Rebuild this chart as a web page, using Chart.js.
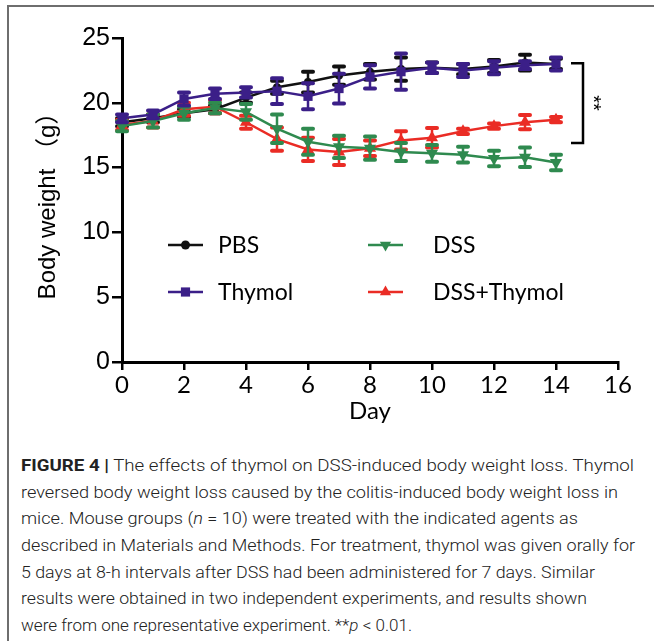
<!DOCTYPE html>
<html>
<head>
<meta charset="utf-8">
<script src="https://cdn.jsdelivr.net/npm/chart.js@4.4.0/dist/chart.umd.min.js"></script>
<style>
  body { margin: 0; background: #fff; width: 654px; height: 641px; overflow: hidden; position: relative; }
  .frame { position: absolute; left: 7px; top: 5px; width: 700px; height: 700px;
           border-top: 2px solid #6e6e6e; border-left: 2px solid #6e6e6e; }
  #wrap { position: absolute; left: 0; top: 0; width: 654px; height: 430px; }
  .caption { position: absolute; left: 21px; top: 452px; font-family: Roboto, "Liberation Sans", sans-serif;
             font-weight: 300; font-size: 17px; color: #222; line-height: 26.67px; }
  .caption .ln { white-space: nowrap; height: 26.67px; }
  .caption .ln span { display: inline-block; transform-origin: left center; }
  .caption b { font-weight: 700; }
</style>
</head>
<body>
<div class="frame"></div>
<div id="wrap"><canvas id="myChart" width="654" height="430"></canvas></div>
<div class="caption">
  <div class="ln"><span><b>FIGURE 4 |</b> The effects of thymol on DSS-induced body weight loss. Thymol</span></div>
  <div class="ln"><span>reversed body weight loss caused by the colitis-induced body weight loss in</span></div>
  <div class="ln"><span>mice. Mouse groups (<i>n</i> = 10) were treated with the indicated agents as</span></div>
  <div class="ln"><span>described in Materials and Methods. For treatment, thymol was given orally for</span></div>
  <div class="ln"><span>5 days at 8-h intervals after DSS had been administered for 7 days. Similar</span></div>
  <div class="ln"><span>results were obtained in two independent experiments, and results shown</span></div>
  <div class="ln"><span>were from one representative experiment. **<i>p</i> &lt; 0.01.</span></div>
</div>
<script>
// values (g)
const days = [0, 1, 2, 3, 4, 5, 6, 7, 8, 9, 10, 11, 12, 13, 14];
const pbs = [18.5, 18.8, 19.2, 19.5, 20.4, 21.2, 21.6, 22.1, 22.4, 22.6, 22.7, 22.6, 22.8, 23.1, 23.0];
const pbsErr = [0.3, 0.3, 0.3, 0.3, 0.4, 0.5, 0.8, 0.7, 0.6, 0.9, 0.4, 0.4, 0.5, 0.6, 0.4];
const thymol = [18.8, 19.1, 20.3, 20.7, 20.8, 20.9, 20.5, 21.1, 22.0, 22.4, 22.7, 22.5, 22.7, 22.9, 23.0];
const thymolErr = [0.3, 0.3, 0.5, 0.4, 0.4, 1.0, 1.0, 1.15, 0.9, 1.4, 0.4, 0.5, 0.5, 0.3, 0.5];
const dss = [18.2, 18.6, 19.2, 19.6, 19.3, 18.0, 17.0, 16.6, 16.5, 16.2, 16.1, 16.0, 15.7, 15.8, 15.4];
const dssErr = [0.4, 0.5, 0.5, 0.4, 0.6, 1.1, 1.0, 0.85, 0.9, 0.7, 0.65, 0.6, 0.6, 0.75, 0.6];
const dssThymol = [18.3, 18.6, 19.5, 19.7, 18.5, 17.2, 16.4, 16.2, 16.5, 17.1, 17.3, 17.8, 18.2, 18.5, 18.7];
const dssThymolErr = [0.4, 0.5, 0.5, 0.5, 0.5, 0.9, 0.9, 1.0, 0.6, 0.7, 0.75, 0.2, 0.2, 0.55, 0.2];

const xTicks = [0, 2, 4, 6, 8, 10, 12, 14, 16];
const yTicks = [0, 5, 10, 15, 20, 25];

// significance bracket between DSS groups and controls
const sigTop = 23.05;
const sigBottom = 16.9;
const sigLabel = '**';

// caption line widths to match the print layout
const captionWidths = [613, 597, 557, 614, 574, 566, 391];

const toPoints = (ys) => days.map((d, i) => ({ x: d, y: ys[i] }));

const errorBars = {
    id: 'errorBars',
    beforeDatasetDraw(chart, args) {
        const ds = chart.data.datasets[args.index];
        if (!ds.errors) return;
        const ctx = chart.ctx;
        const xs = chart.scales.x, ys = chart.scales.y;
        ctx.save();
        ctx.strokeStyle = ds.borderColor;
        ds.data.forEach((p, i) => {
            const e = ds.errors[i];
            const px = xs.getPixelForValue(p.x);
            const top = ys.getPixelForValue(p.y + e);
            const bot = ys.getPixelForValue(p.y - e);
            ctx.lineWidth = 2.5;
            ctx.lineCap = 'butt';
            ctx.beginPath();
            ctx.moveTo(px, top);
            ctx.lineTo(px, bot);
            ctx.stroke();
            ctx.lineWidth = 4;
            ctx.lineCap = 'round';
            ctx.beginPath();
            ctx.moveTo(px - 5, top); ctx.lineTo(px + 5, top);
            ctx.moveTo(px - 5, bot); ctx.lineTo(px + 5, bot);
            ctx.stroke();
        });
        ctx.restore();
    }
};

function drawMarker(ctx, style, color, x, y, r, rot) {
    ctx.save();
    ctx.fillStyle = color;
    ctx.beginPath();
    if (style === 'circle') {
        ctx.arc(x, y, r, 0, Math.PI * 2);
    } else if (style === 'rect') {
        const s = r * Math.SQRT1_2;
        ctx.rect(x - s, y - s, 2 * s, 2 * s);
    } else {
        const dir = rot ? 1 : -1;
        ctx.moveTo(x, y + dir * r);
        ctx.lineTo(x - r * 0.866, y - dir * r * 0.5);
        ctx.lineTo(x + r * 0.866, y - dir * r * 0.5);
        ctx.closePath();
    }
    ctx.fill();
    ctx.restore();
}

const extras = {
    id: 'extras',
    afterDraw(chart) {
        const ctx = chart.ctx;
        const xs = chart.scales.x, ys = chart.scales.y;
        const area = chart.chartArea;

        // bracket + stars
        const bx = xs.getPixelForValue(14) + 27;
        const t = ys.getPixelForValue(sigTop), b = ys.getPixelForValue(sigBottom);
        ctx.save();
        ctx.strokeStyle = '#000';
        ctx.lineWidth = 2.5;
        ctx.beginPath();
        ctx.moveTo(bx - 12, t); ctx.lineTo(bx, t); ctx.lineTo(bx, b); ctx.lineTo(bx - 12, b);
        ctx.stroke();
        ctx.translate(bx + 10, (t + b) / 2);
        ctx.rotate(Math.PI / 2);
        ctx.fillStyle = '#000';
        ctx.font = '20px "Liberation Sans"';
        ctx.textAlign = 'center';
        ctx.textBaseline = 'middle';
        ctx.fillText(sigLabel, 0, 0);
        ctx.restore();

        // legend, two columns inside the plot
        const cols = [area.left + 46, area.left + 246];
        const textGap = [50, 65];
        const rows = [245, 292];
        const slots = [[0, 0], [0, 1], [1, 0], [1, 1]];
        ctx.save();
        ctx.font = '23px Lato';
        ctx.textBaseline = 'middle';
        ctx.textAlign = 'left';
        chart.data.datasets.forEach((ds, i) => {
            const [c, r] = slots[i];
            const x0 = cols[c], y0 = rows[r];
            ctx.strokeStyle = ds.borderColor;
            ctx.lineWidth = 2.5;
            ctx.beginPath();
            ctx.moveTo(x0, y0); ctx.lineTo(x0 + 35, y0);
            ctx.stroke();
            drawMarker(ctx, ds.pointStyle, ds.borderColor, x0 + 17.5, y0, ds.legendRadius, ds.pointRotation);
            ctx.fillStyle = '#000';
            ctx.fillText(ds.label, x0 + textGap[c], y0 + 1);
        });
        ctx.restore();
    }
};

const ctx = document.getElementById('myChart').getContext('2d');
const myChart = new Chart(ctx, {
    type: 'line',
    data: {
        datasets: [
            {
                label: 'PBS', data: toPoints(pbs), errors: pbsErr,
                borderColor: '#111111', backgroundColor: '#111111',
                pointStyle: 'circle', pointRadius: 4, legendRadius: 4.5, order: 3
            },
            {
                label: 'Thymol', data: toPoints(thymol), errors: thymolErr,
                borderColor: '#3b1f88', backgroundColor: '#3b1f88',
                pointStyle: 'rect', pointRadius: 6.5, legendRadius: 6.5, order: 0
            },
            {
                label: 'DSS', data: toPoints(dss), errors: dssErr,
                borderColor: '#2f8a4f', backgroundColor: '#2f8a4f',
                pointStyle: 'triangle', pointRotation: 180, pointRadius: 7, legendRadius: 6.5, order: 1
            },
            {
                label: 'DSS+Thymol', data: toPoints(dssThymol), errors: dssThymolErr,
                borderColor: '#ea2c25', backgroundColor: '#ea2c25',
                pointStyle: 'triangle', pointRadius: 7, legendRadius: 6.5, order: 2
            }
        ].map(ds => Object.assign(ds, {
            borderWidth: 2.5, pointBorderWidth: 0, pointHoverRadius: ds.pointRadius,
            tension: 0, clip: false, fill: false
        }))
    },
    options: {
        responsive: false,
        animation: false,
        events: [],
        layout: { padding: { left: 0, right: 36, top: 38, bottom: 0 } },
        plugins: {
            legend: { display: false },
            tooltip: { enabled: false }
        },
        scales: {
            x: {
                type: 'linear', min: 0, max: 16,
                afterBuildTicks: (s) => { s.ticks = xTicks.map(v => ({ value: v })); },
                afterFit: (s) => { s.height = 68; },
                ticks: { color: '#000', font: { family: 'Lato', size: 24 }, padding: 1 },
                grid: { display: true, drawOnChartArea: false, drawTicks: true, tickLength: 8, color: '#000', lineWidth: 2.5 },
                border: { display: true, color: '#000', width: 3 },
                title: { display: true, text: 'Day', color: '#000', font: { family: 'Lato', size: 24 }, padding: { top: 0, bottom: 4 } }
            },
            y: {
                min: 0, max: 25,
                afterBuildTicks: (s) => { s.ticks = yTicks.map(v => ({ value: v })); },
                afterFit: (s) => { s.width = 122; },
                ticks: { color: '#000', font: { family: '"Liberation Sans"', size: 25 }, padding: 2 },
                grid: { display: true, drawOnChartArea: false, drawTicks: true, tickLength: 10, color: '#000', lineWidth: 2.5 },
                border: { display: true, color: '#000', width: 3 },
                title: {
                    display: true, text: 'Body weight （g）', color: '#000',
                    font: { family: '"Liberation Sans", "Noto Sans CJK SC"', size: 24 },
                    padding: { top: 34, bottom: 0 }
                }
            }
        }
    },
    plugins: [errorBars, extras]
});

document.fonts.ready.then(() => {
    document.querySelectorAll('.caption .ln span').forEach((el, i) => {
        const w = el.getBoundingClientRect().width;
        if (w > 0) el.style.transform = 'scaleX(' + (captionWidths[i] / w) + ')';
    });
    myChart.update();
});
</script>
</body>
</html>
